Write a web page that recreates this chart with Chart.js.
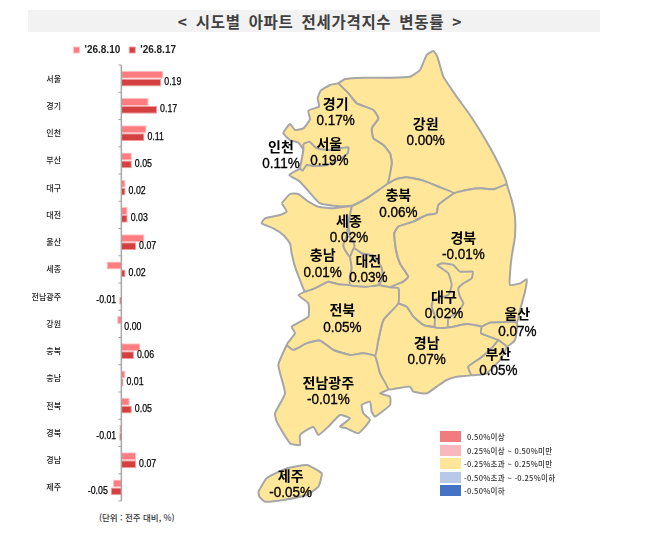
<!DOCTYPE html>
<html lang="ko">
<head>
<meta charset="utf-8">
<title>시도별 아파트 전세가격지수 변동률</title>
<script src="https://cdn.jsdelivr.net/npm/chart.js@4/dist/chart.umd.min.js"></script>
<style>
	html, body { margin: 0; padding: 0; background: #fff; }
	body { width: 662px; height: 546px; position: relative; overflow: hidden; font-family: "Noto Sans CJK KR", sans-serif; }
	canvas { position: absolute; }
	#title { position: absolute; left: 28px; top: 10px; width: 572px; height: 22px; line-height: 22px; box-sizing: border-box; padding-left: 12px; background: #f2f2f2; color: #404040; font-size: 15.5px; font-weight: 700; text-align: center; word-spacing: 3px; letter-spacing: .7px; }
	#unit { position: absolute; left: 99px; top: 511px; font-size: 8.5px; color: #333; font-weight: 500; white-space: nowrap; }
	.key { position: absolute; left: 440px; width: 21px; height: 11px; }
	.keytext { position: absolute; font-size: 7.5px; line-height: 11px; font-weight: 500; color: #333; white-space: nowrap; letter-spacing: .3px; }
</style>
</head>
<body>
<div id="title">&lt; 시도별 아파트 전세가격지수 변동률 &gt;</div>
<canvas id="bar_chart" width="200" height="474" style="left:28px;top:36px"></canvas>
<canvas id="map_chart" width="300" height="480" style="left:250px;top:40px"></canvas>
<div id="unit">(단위 : 전주 대비, %)</div>
<div id="map_key"></div>

<script>
//bar chart data
var categories = ["서울", "경기", "인천", "부산", "대구", "대전", "울산", "세종", "전남광주", "강원", "충북", "충남", "전북", "경북", "경남", "제주"];
var series_labels = ["'26.8.10", "'26.8.17"];
var prev_week = [0.20, 0.13, 0.12, 0.05, 0.02, 0.03, 0.11, -0.07, 0.00, -0.02, 0.09, 0.02, 0.04, -0.01, 0.07, -0.04];
var this_week = [0.19, 0.17, 0.11, 0.05, 0.02, 0.03, 0.07, 0.02, -0.01, 0.00, 0.06, 0.01, 0.05, -0.01, 0.07, -0.05];

//map outlines
var gangwon = [[265,130],[285,117],[340,113],[420,113],[480,110],[510,90],[530,45],[550,33],[562,50],[580,110],[620,170],[660,225],[710,305],[750,380],[770,433],[730,448],[690,445],[650,450],[612,460],[570,442],[520,422],[470,412],[440,417],[412,432],[425,370],[420,340],[400,315],[370,295],[365,265],[385,235],[370,210],[320,190],[295,160]];
var gyeonggi = [[265,130],[240,135],[212,152],[203,175],[207,200],[175,212],[180,238],[160,265],[135,270],[120,252],[100,280],[120,300],[145,308],[160,330],[155,360],[150,385],[118,405],[150,425],[190,470],[210,490],[250,497],[305,497],[350,475],[412,432],[425,370],[420,340],[400,315],[370,295],[365,265],[385,235],[370,210],[320,190],[295,160]];
var seoul = [[160,312],[178,305],[200,325],[240,330],[295,322],[293,340],[265,360],[230,375],[190,378],[170,375],[158,392],[150,385],[155,360],[160,330]];
var chungnam = [[95,490],[120,462],[145,462],[175,485],[205,500],[250,505],[305,500],[295,550],[290,590],[280,615],[285,630],[300,650],[305,685],[300,710],[300,735],[265,733],[235,725],[195,745],[165,755],[150,720],[135,680],[125,640],[120,610],[100,585],[70,565],[35,550],[45,535],[90,525],[110,515]];
var sejong = [[290,590],[280,615],[285,630],[300,650],[312,625],[312,610],[300,590]];
var chungbuk = [[305,500],[350,475],[412,432],[440,417],[470,412],[520,422],[570,442],[612,460],[565,495],[560,520],[530,525],[490,545],[445,560],[433,580],[438,630],[450,670],[475,710],[460,725],[420,742],[385,735],[398,715],[395,685],[372,648],[335,640],[312,625],[312,610],[300,590],[295,550]];
var daejeon = [[300,650],[312,625],[335,640],[372,648],[395,685],[398,715],[385,735],[345,740],[300,735],[300,710],[305,685]];
var gyeongbuk = [[770,432],[785,480],[795,530],[795,590],[785,650],[780,700],[780,735],[810,730],[830,718],[825,755],[810,810],[800,848],[720,848],[695,860],[650,852],[600,862],[560,862],[520,855],[490,830],[470,800],[445,790],[445,745],[420,742],[460,725],[475,710],[450,670],[438,630],[433,580],[445,560],[490,545],[530,525],[560,520],[565,495],[612,460],[650,450],[690,445],[730,448]];
var daegu = [[560,675],[580,670],[610,675],[630,695],[668,695],[665,715],[640,730],[625,745],[630,770],[640,790],[625,815],[595,835],[592,862],[555,862],[555,830],[545,800],[550,780],[595,765],[605,735],[595,700],[575,685]];
var ulsan = [[695,860],[720,848],[800,848],[795,900],[770,920],[745,900],[693,880]];
var busan = [[745,900],[770,920],[750,960],[710,1000],[665,1005],[655,980],[690,955],[720,930]];
var gyeongnam = [[445,790],[470,800],[490,830],[520,855],[560,862],[600,862],[650,852],[695,860],[693,880],[745,900],[720,930],[690,955],[655,980],[665,1005],[620,1010],[590,1020],[560,1040],[530,1060],[490,1055],[480,1040],[440,1045],[415,1048],[390,1000],[375,948],[385,900],[400,840]];
var jeonbuk = [[165,755],[195,745],[235,725],[265,733],[300,735],[345,740],[385,735],[420,742],[445,745],[445,790],[400,840],[385,900],[375,948],[340,940],[300,945],[250,930],[210,902],[170,910],[130,930],[110,915],[135,880],[125,860],[175,830],[175,790],[145,765]];
var jeonnam = [[110,915],[130,930],[170,910],[210,902],[250,930],[300,945],[340,940],[375,948],[390,1000],[415,1048],[390,1060],[420,1070],[420,1095],[375,1130],[365,1115],[360,1085],[335,1095],[340,1120],[360,1140],[325,1180],[290,1165],[270,1160],[300,1135],[270,1125],[235,1160],[205,1185],[190,1160],[150,1185],[150,1215],[120,1210],[80,1145],[75,1120],[105,1060],[85,975]];
var jeju = [[25,1355],[50,1315],[110,1285],[170,1275],[215,1300],[205,1340],[170,1365],[100,1380],[45,1385],[28,1370]];
//chart.js paints the first dataset last, so the small inner regions come first
var outlines = [busan, ulsan, daegu, daejeon, sejong, seoul, jeju, jeonnam, jeonbuk, gyeongnam, gyeongbuk, chungbuk, chungnam, gyeonggi, gangwon];

//map labels
var map_names = ["경기", "서울", "인천", "강원", "충북", "세종", "충남", "대전", "경북", "대구", "전북", "전남광주", "경남", "울산", "부산", "제주"];
var map_values = ["0.17%", "0.19%", "0.11%", "0.00%", "0.06%", "0.02%", "0.01%", "0.03%", "-0.01%", "0.02%", "0.05%", "-0.01%", "0.07%", "0.07%", "0.05%", "-0.05%"];
var map_label_x = [257, 238, 93, 527, 445, 297, 218, 355, 640, 582, 277, 235, 530, 802, 745, 122];
var map_label_y = [190, 310, 320, 250, 465, 541, 645, 662, 593, 770, 810, 1028, 907, 822, 940, 1307];

//color key
var key_labels = ["0.50%이상", "0.25%이상 ~ 0.50%미만", "-0.25%초과 ~ 0.25%미만", "-0.50%초과 ~ -0.25%이하", "-0.50%이하"];
var key_colors = ["#f07c80", "#f8b8bc", "#ffe699", "#b8c8e8", "#4472c4"];
var key_text_left = [467, 467, 464, 464, 464];
var key_top = [431, 445, 458, 472, 485];

//axis line sits at zero, tick marks at the category edges
var zero_axis = {
	id: "zero_axis",
	afterDatasetsDraw: function(chart) {
		var ctx = chart.ctx;
		var x0 = chart.scales.x.getPixelForValue(0);
		var area = chart.chartArea;
		var step = (area.bottom - area.top) / categories.length;
		ctx.save();
		ctx.strokeStyle = "#a6a6a6";
		ctx.lineWidth = 1.5;
		ctx.beginPath();
		ctx.moveTo(x0, area.top);
		ctx.lineTo(x0, area.bottom);
		ctx.stroke();
		ctx.lineWidth = 1;
		for (var i = 0; i <= categories.length; i++) {
			ctx.beginPath();
			ctx.moveTo(x0 - 3, area.top + i * step);
			ctx.lineTo(x0, area.top + i * step);
			ctx.stroke();
		}
		ctx.restore();
	}
};

var bar_value_labels = {
	id: "bar_value_labels",
	afterDatasetsDraw: function(chart) {
		var ctx = chart.ctx;
		var bars = chart.getDatasetMeta(1).data;
		ctx.save();
		ctx.font = '11px "Liberation Sans"';
		ctx.fillStyle = "#000";
		ctx.strokeStyle = "#000";
		ctx.lineWidth = 0.25;
		ctx.textBaseline = "middle";
		for (var i = 0; i < bars.length; i++) {
			var v = this_week[i];
			var tx = bars[i].x + (v < 0 ? -3 : 3);
			ctx.save();
			ctx.translate(tx, bars[i].y - 0.5);
			ctx.scale(0.8, 1);
			ctx.textAlign = v < 0 ? "right" : "left";
			ctx.fillText(v.toFixed(2), 0, 0);
			ctx.strokeText(v.toFixed(2), 0, 0);
			ctx.restore();
		}
		ctx.restore();
	}
};

var map_text_labels = {
	id: "map_text_labels",
	afterDatasetsDraw: function(chart) {
		var ctx = chart.ctx;
		var sx = chart.scales.x, sy = chart.scales.y;
		ctx.save();
		ctx.fillStyle = "#000";
		ctx.strokeStyle = "#000";
		ctx.lineWidth = 0.35;
		ctx.textAlign = "center";
		ctx.textBaseline = "middle";
		for (var i = 0; i < map_names.length; i++) {
			var x = sx.getPixelForValue(map_label_x[i]);
			var y = sy.getPixelForValue(map_label_y[i]);
			ctx.font = '700 14px "Noto Sans CJK KR"';
			ctx.fillText(map_names[i], x, y);
			ctx.save();
			ctx.translate(x, y + 17.5);
			ctx.scale(0.9, 1);
			ctx.font = '15px "Liberation Sans"';
			ctx.fillText(map_values[i], 0, 0);
			ctx.strokeText(map_values[i], 0, 0);
			ctx.restore();
		}
		ctx.restore();
	}
};

function to_points(outline) {
	var pts = outline.map(function(p) { return { x: p[0], y: p[1] }; });
	pts.push(pts[0]);
	return pts;
}

function draw_key() {
	var box = document.getElementById("map_key");
	key_labels.forEach(function(label, i) {
		var swatch = document.createElement("div");
		swatch.className = "key";
		swatch.style.top = key_top[i] + "px";
		swatch.style.background = key_colors[i];
		box.appendChild(swatch);
		var text = document.createElement("div");
		text.className = "keytext";
		text.style.left = key_text_left[i] + "px";
		text.style.top = key_top[i] + "px";
		text.textContent = label;
		box.appendChild(text);
	});
}

window.addEventListener("load", function() {
	Chart.defaults.animation = false;

	new Chart(document.getElementById("bar_chart"), {
		type: "bar",
		data: {
			labels: categories,
			datasets: [
				{ label: series_labels[0], data: prev_week, backgroundColor: "#ff7c80", borderColor: "#ffc2c4", borderWidth: 1, categoryPercentage: 0.58, barPercentage: 1 },
				{ label: series_labels[1], data: this_week, backgroundColor: "#d44040", borderColor: "#f09a9c", borderWidth: 1, categoryPercentage: 0.58, barPercentage: 1 }
			]
		},
		options: {
			indexAxis: "y",
			responsive: false,
			layout: { padding: { left: 0, right: 43, top: 0, bottom: 9 } },
			plugins: {
				legend: {
					position: "top",
					align: "end",
					labels: { boxWidth: 6, boxHeight: 6, padding: 9, color: "#222", font: { size: 10, weight: "bold", family: '"Liberation Sans"' } }
				},
				tooltip: { enabled: false }
			},
			scales: {
				x: { display: false, min: -0.235, max: 0.303 },
				y: {
					border: { display: false },
					grid: { display: false },
					afterFit: function(scale) { scale.width = 44; },
					ticks: { padding: 3, color: "#222", font: { size: 8, family: '"Noto Sans CJK KR"', weight: "500" } }
				}
			}
		},
		plugins: [zero_axis, bar_value_labels]
	});

	new Chart(document.getElementById("map_chart"), {
		type: "scatter",
		data: {
			datasets: outlines.map(function(outline) {
				return { data: to_points(outline), showLine: true, fill: "shape", tension: 0.15, pointRadius: 0, borderColor: "#a6a6a6", borderWidth: 2, backgroundColor: "#ffe699" };
			})
		},
		options: {
			responsive: false,
			layout: { padding: 0 },
			plugins: { legend: { display: false }, tooltip: { enabled: false } },
			scales: {
				x: { display: false, min: 0, max: 900 },
				y: { display: false, min: 0, max: 1440, reverse: true }
			}
		},
		plugins: [map_text_labels]
	});

	draw_key();
});
</script>
</body>
</html>
